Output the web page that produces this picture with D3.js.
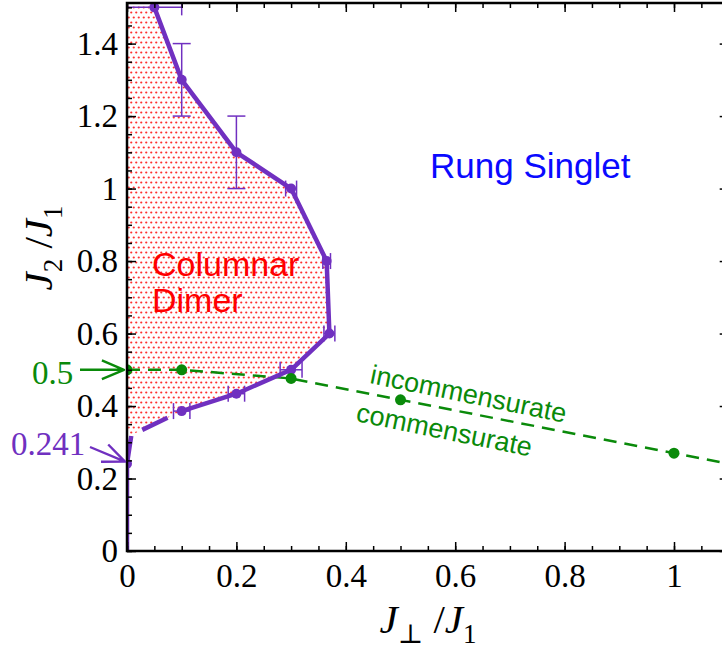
<!DOCTYPE html>
<html>
<head>
<meta charset="utf-8">
<script src="https://cdn.jsdelivr.net/npm/d3@7"></script>
<style>
  body { margin: 0; background: #fff; }
  svg { display: block; }
</style>
</head>
<body>
<svg width="722" height="651"></svg>
<script>
const svg = d3.select("svg");

// boundary of the columnar dimer phase (purple)
const bx = [0.05, 0.1, 0.2, 0.3, 0.365, 0.37, 0.3, 0.2, 0.1];
const by = [1.5, 1.3, 1.1, 1.0, 0.8, 0.6, 0.5, 0.434, 0.386];
const bxErr = [0.05, 0, 0, 0.01, 0.007, 0.01, 0.02, 0.015, 0.015];
const byErr = [0, 0.1, 0.1, 0, 0, 0, 0, 0, 0];

// dashed continuation down to the axis point 0.241
const dashX = [0, 0.008, 0.1];
const dashY = [0.241, 0.32, 0.386];
const axisX = [0, 0];
const axisY = [0, 0.241];

// commensurate / incommensurate line (green)
const gx = [0, 0.1, 0.3, 0.5, 1.0];
const gy = [0.5, 0.5, 0.476, 0.417, 0.27];
const gEndX = 1.1, gEndY = 0.241;

const xTicks = [0, 0.2, 0.4, 0.6, 0.8, 1];
const yTicks = [0, 0.2, 0.4, 0.6, 0.8, 1, 1.2, 1.4];
const xMax = 1.1, yMax = 1.512;

const x = d3.scaleLinear().domain([0, xMax]).range([127, 728.7]);
const y = d3.scaleLinear().domain([0, yMax]).range([551, 3]);

const purple = "#7030c0";
const green = "#0a8a0a";
const serif = "'Liberation Serif', 'DejaVu Serif', serif";
const sans = "'Liberation Sans', Arial, sans-serif";

const defs = svg.append("defs");
defs.append("clipPath").attr("id", "plot")
  .append("rect")
  .attr("x", x(0)).attr("y", y(yMax))
  .attr("width", x(xMax) - x(0)).attr("height", y(0) - y(yMax));

const pat = defs.append("pattern").attr("id", "dots")
  .attr("patternUnits", "userSpaceOnUse")
  .attr("width", 5).attr("height", 10);
pat.append("circle").attr("cx", 1.25).attr("cy", 2.5).attr("r", 1.1).attr("fill", "#ff3030");
pat.append("circle").attr("cx", 3.75).attr("cy", 7.5).attr("r", 1.1).attr("fill", "#ff3030");

const plot = svg.append("g").attr("clip-path", "url(#plot)");

// dotted fill of the dimer region
const fillPts = [[0, yMax], [0.048, yMax]]
  .concat(bx.map((d, i) => [d, by[i]]))
  .concat([[dashX[1], dashY[1]], [0, dashY[1]]]);
plot.append("path")
  .attr("d", d3.line().x(d => x(d[0])).y(d => y(d[1]))(fillPts) + "Z")
  .attr("fill", "url(#dots)");

// frame + ticks
const minor = d3.range(0, 23).map(i => i * 0.05);
const minorY = d3.range(0, 31).map(i => i * 0.05);
const fmt = d3.format("~g");

function styleAxis(g) {
  g.select(".domain").remove();
  g.selectAll("line").attr("stroke", "#000").attr("stroke-width", 1.5);
  g.selectAll("text").attr("font-family", serif).attr("font-size", 33).attr("fill", "#000");
}

svg.append("g").attr("transform", `translate(0,${y(0)})`)
  .call(d3.axisBottom(x).tickValues(minor).tickSize(-5).tickFormat("")).call(styleAxis);
svg.append("g").attr("transform", `translate(0,${y(0)})`)
  .call(d3.axisBottom(x).tickValues(xTicks).tickSize(-9).tickPadding(13).tickFormat(fmt)).call(styleAxis);
svg.append("g").attr("transform", `translate(0,${y(yMax)})`)
  .call(d3.axisTop(x).tickValues(minor).tickSize(-5).tickFormat("")).call(styleAxis);
svg.append("g").attr("transform", `translate(0,${y(yMax)})`)
  .call(d3.axisTop(x).tickValues(xTicks).tickSize(-9).tickFormat("")).call(styleAxis);
svg.append("g").attr("transform", `translate(${x(0)},0)`)
  .call(d3.axisLeft(y).tickValues(minorY).tickSize(-5).tickFormat("")).call(styleAxis);
svg.append("g").attr("transform", `translate(${x(0)},0)`)
  .call(d3.axisLeft(y).tickValues(yTicks).tickSize(-9).tickPadding(9).tickFormat(fmt)).call(styleAxis);
svg.append("g").attr("transform", `translate(${x(xMax)},0)`)
  .call(d3.axisRight(y).tickValues(yTicks).tickSize(-9).tickFormat("")).call(styleAxis);

svg.append("rect")
  .attr("x", x(0)).attr("y", y(yMax))
  .attr("width", x(xMax) - x(0)).attr("height", y(0) - y(yMax))
  .attr("fill", "none").attr("stroke", "#000").attr("stroke-width", 2.5);

const line = d3.line().x(d => x(d[0])).y(d => y(d[1]));

// green dashed line
const gPts = gx.map((d, i) => [d, gy[i]]).concat([[gEndX, gEndY]]);
plot.append("path").attr("d", line(gPts))
  .attr("fill", "none").attr("stroke", green).attr("stroke-width", 2.5)
  .attr("stroke-dasharray", "13 8");

// purple boundary
plot.append("path").attr("d", line(axisX.map((d, i) => [d, axisY[i]])))
  .attr("fill", "none").attr("stroke", purple).attr("stroke-width", 4.5);
plot.append("path").attr("d", line(dashX.map((d, i) => [d, dashY[i]])))
  .attr("fill", "none").attr("stroke", purple).attr("stroke-width", 4.5)
  .attr("stroke-dasharray", "28 13");
plot.append("path").attr("d", line(bx.map((d, i) => [d, by[i]])))
  .attr("fill", "none").attr("stroke", purple).attr("stroke-width", 4.5)
  .attr("stroke-linejoin", "round");

// error bars
const eb = plot.append("g").attr("stroke", purple).attr("stroke-width", 1.5).attr("fill", "none");
bx.forEach((d, i) => {
  const cx = x(d), cy = y(by[i]);
  if (bxErr[i] > 0) {
    const x0 = x(d - bxErr[i]), x1 = x(d + bxErr[i]);
    eb.append("line").attr("x1", x0).attr("x2", x1).attr("y1", cy).attr("y2", cy);
    [x0, x1].forEach(xx => eb.append("line").attr("x1", xx).attr("x2", xx).attr("y1", cy - 8).attr("y2", cy + 8));
  }
  if (byErr[i] > 0) {
    const y0 = y(by[i] - byErr[i]), y1 = y(by[i] + byErr[i]);
    eb.append("line").attr("x1", cx).attr("x2", cx).attr("y1", y0).attr("y2", y1);
    [y0, y1].forEach(yy => eb.append("line").attr("x1", cx - 9).attr("x2", cx + 9).attr("y1", yy).attr("y2", yy));
  }
});

// markers
plot.append("g").selectAll("circle")
  .data(bx.map((d, i) => [d, by[i]]).concat([[dashX[0], dashY[0]]]))
  .join("circle")
  .attr("cx", d => x(d[0])).attr("cy", d => y(d[1])).attr("r", 5)
  .attr("fill", purple);
plot.append("g").selectAll("circle")
  .data(gx.map((d, i) => [d, gy[i]]))
  .join("circle")
  .attr("cx", d => x(d[0])).attr("cy", d => y(d[1])).attr("r", 5.5)
  .attr("fill", green);

// region labels
svg.append("text").attr("x", 430).attr("y", 178)
  .attr("font-family", sans).attr("font-size", 35).attr("fill", "#0a0aff")
  .text("Rung Singlet");
svg.append("text").attr("x", 152).attr("y", 276)
  .attr("font-family", sans).attr("font-size", 34).attr("fill", "#ff0000")
  .text("Columnar");
svg.append("text").attr("x", 152).attr("y", 312)
  .attr("font-family", sans).attr("font-size", 34).attr("fill", "#ff0000")
  .text("Dimer");

const ang = 11.5;
svg.append("text").attr("transform", `translate(369,383) rotate(${ang})`)
  .attr("font-family", sans).attr("font-size", 27).attr("fill", green)
  .text("incommensurate");
svg.append("text").attr("transform", `translate(355,421) rotate(${ang})`)
  .attr("font-family", sans).attr("font-size", 27).attr("fill", green)
  .text("commensurate");

// arrows to the axis
function arrow(x0, y0, x1, y1, color) {
  const a = Math.atan2(y1 - y0, x1 - x0), L = 24, s = 0.4;
  const p = d3.path();
  p.moveTo(x0, y0); p.lineTo(x1, y1);
  p.moveTo(x1 - L * Math.cos(a - s), y1 - L * Math.sin(a - s));
  p.lineTo(x1, y1);
  p.lineTo(x1 - L * Math.cos(a + s), y1 - L * Math.sin(a + s));
  svg.append("path").attr("d", p.toString())
    .attr("fill", "none").attr("stroke", color).attr("stroke-width", 2.4)
    .attr("stroke-linejoin", "round");
}
arrow(80, y(0.5), x(0) - 3, y(0.5), green);
arrow(90, 447, x(0) - 2, y(0.241) - 2, purple);

svg.append("text").attr("x", 32).attr("y", y(0.5) + 14)
  .attr("font-family", serif).attr("font-size", 33).attr("fill", green).text("0.5");
svg.append("text").attr("x", 11).attr("y", 455)
  .attr("font-family", serif).attr("font-size", 33).attr("fill", purple).text("0.241");

// axis titles
function title(sel, sub1, sub2) {
  sel.attr("font-family", serif).attr("font-size", 41).attr("fill", "#000").attr("text-anchor", "middle");
  sel.append("tspan").attr("font-style", "italic").text("J");
  sel.append("tspan").attr("font-size", 27).attr("dy", 10).text(sub1);
  sel.append("tspan").attr("dy", -10).text(" /");
  sel.append("tspan").attr("font-style", "italic").text("J");
  sel.append("tspan").attr("font-size", 27).attr("dy", 10).text(sub2);
}
title(svg.append("text").attr("x", 428).attr("y", 633), "\u22A5", "1");
title(svg.append("text").attr("transform", "translate(52,248) rotate(-90)"), "2", "1");
</script>
</body>
</html>
